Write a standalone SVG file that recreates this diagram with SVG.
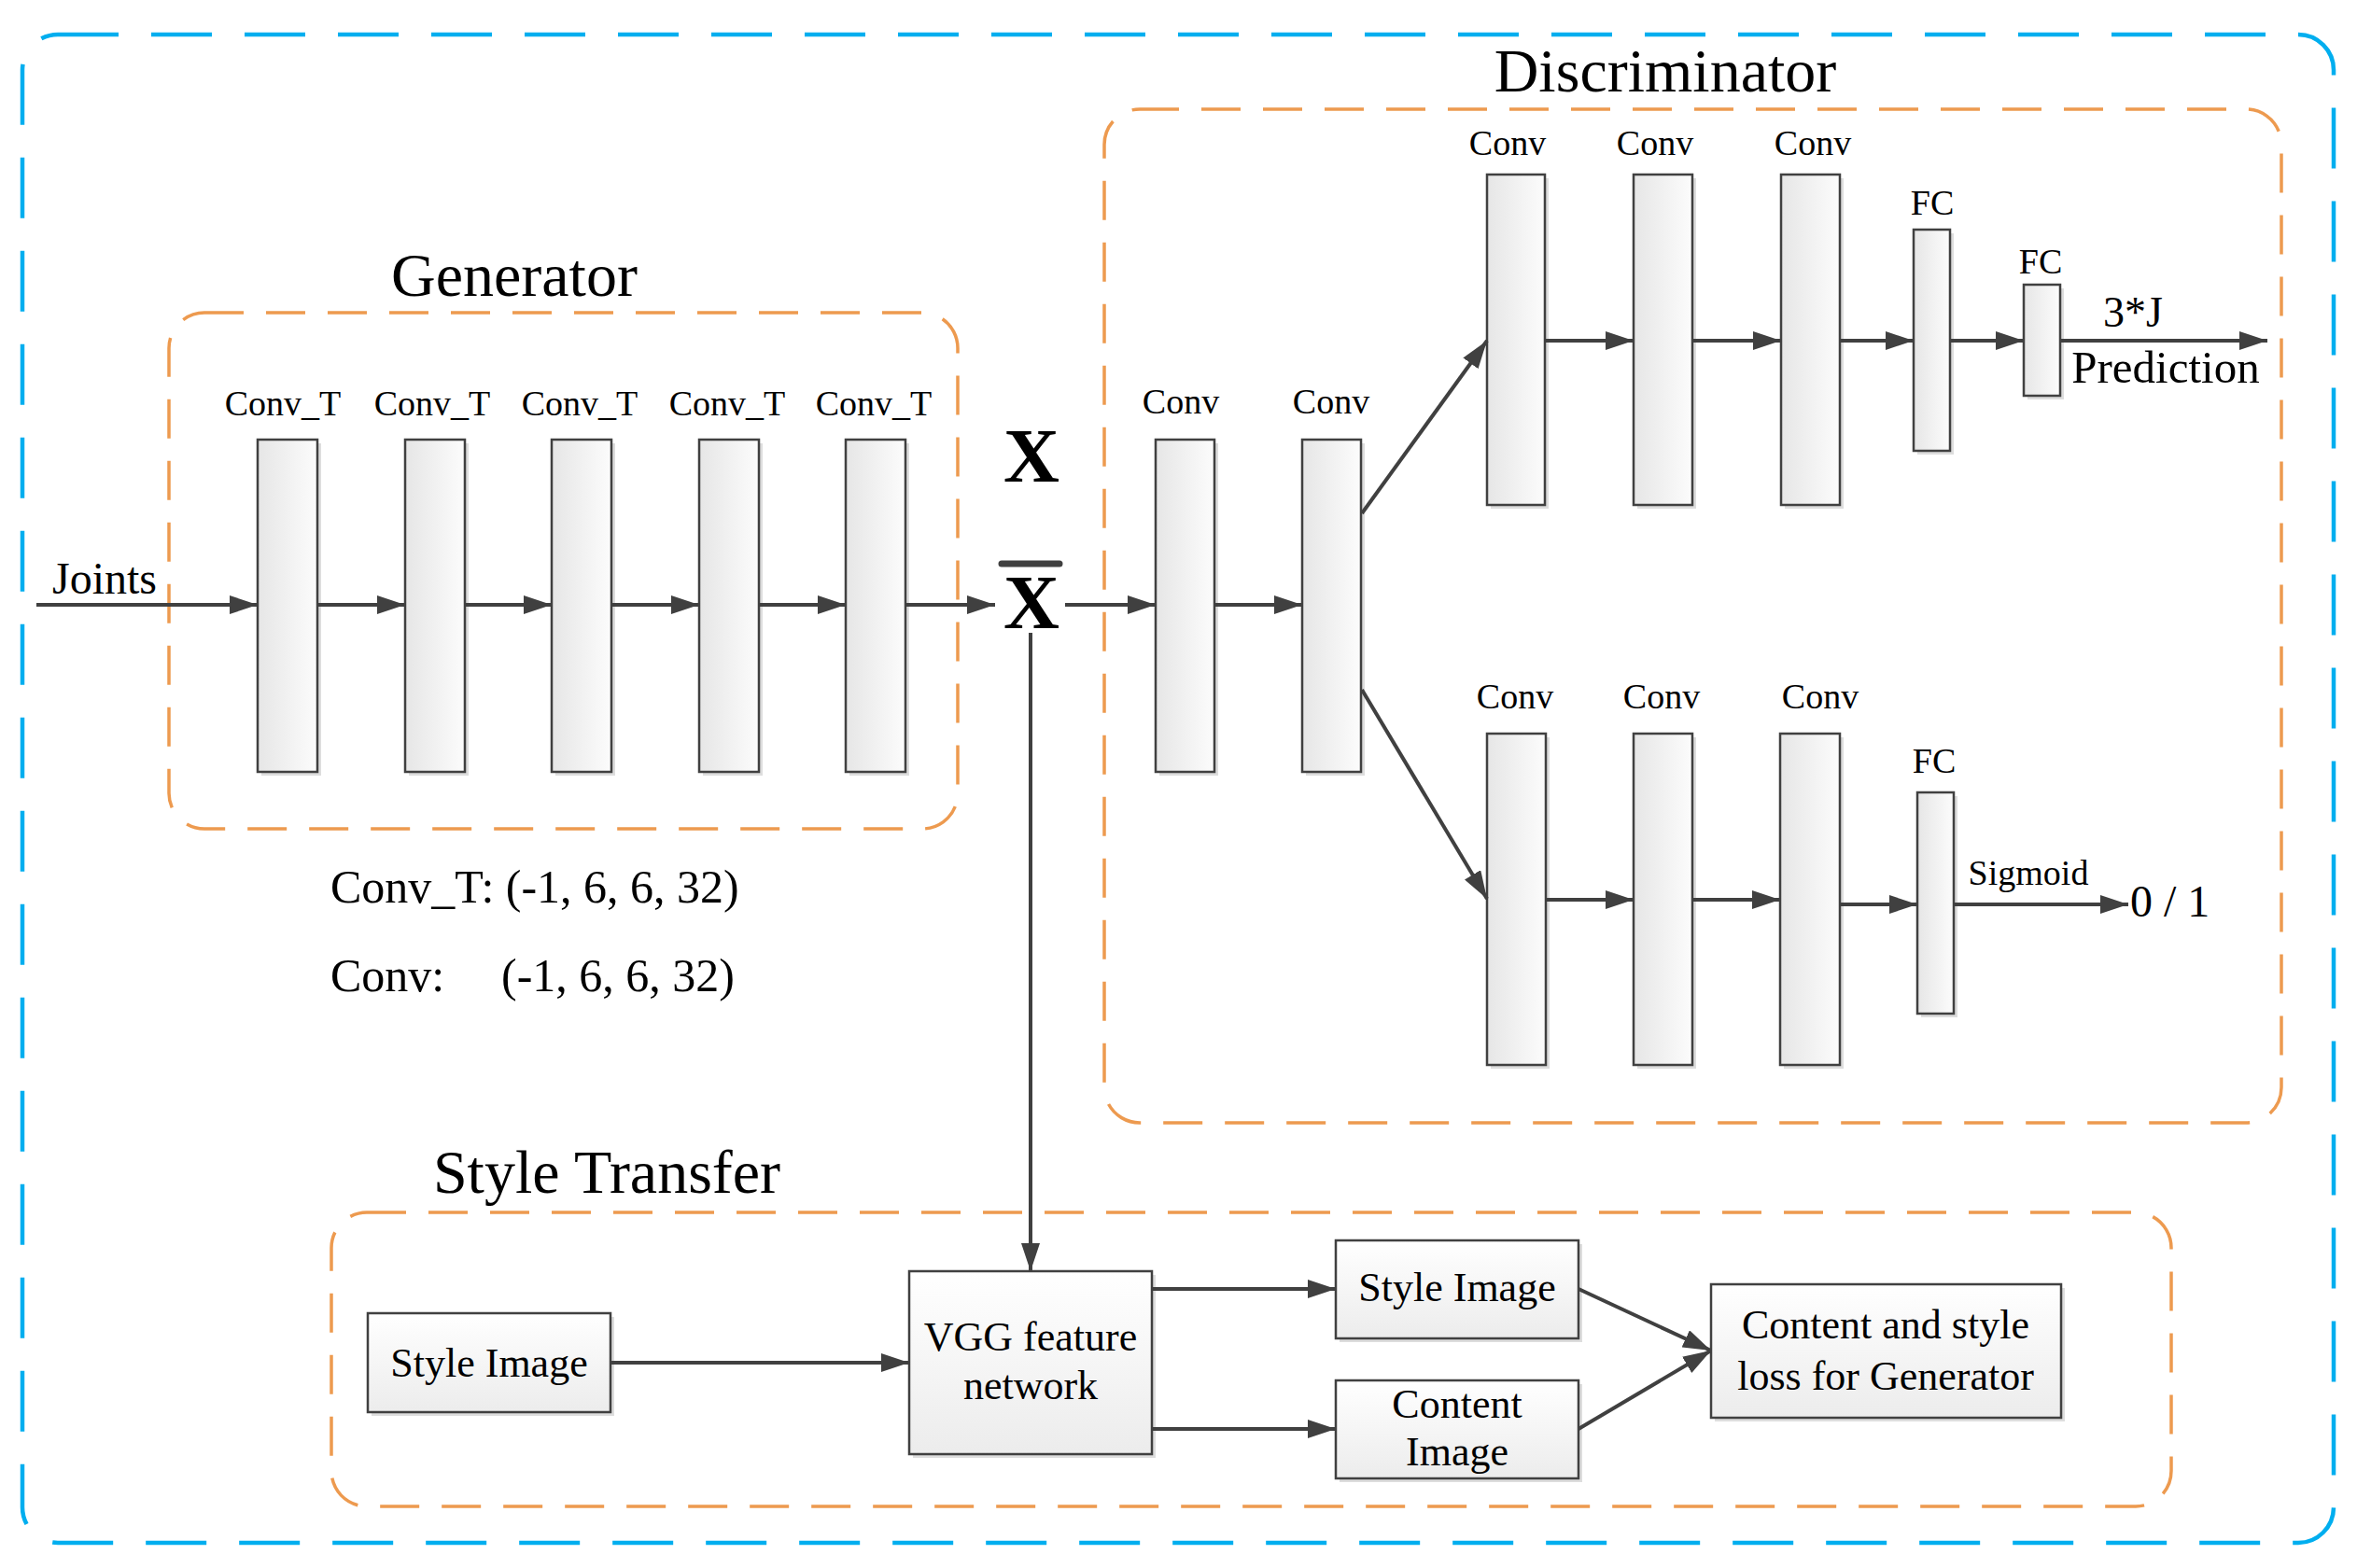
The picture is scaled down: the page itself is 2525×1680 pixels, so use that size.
<svg xmlns="http://www.w3.org/2000/svg" width="2525" height="1680" viewBox="0 0 2525 1680">
<style>
.t{font-family:"Liberation Serif","Times New Roman",serif;fill:#000}
.lbl{font-size:38px;text-anchor:middle}
.ttl{font-size:66px;text-anchor:middle}
.box{font-size:44px;text-anchor:middle}
.blk{fill:url(#gh);stroke:#404040;stroke-width:2.5}
.bx{fill:url(#gv);stroke:#404040;stroke-width:2.5}
.sh{fill:#cfcfcf;opacity:.7}
.grp{fill:none;stroke:#ED9A4F;stroke-width:3.5;stroke-dasharray:42 24}
.c line{stroke:#404040;stroke-width:4;marker-end:url(#ah)}
</style>
<defs>
<linearGradient id="gh" x1="0" y1="0" x2="1" y2="0"><stop offset="0" stop-color="#E6E6E6"/><stop offset="1" stop-color="#FCFCFC"/></linearGradient>
<linearGradient id="gv" x1="0" y1="0" x2="0" y2="1"><stop offset="0" stop-color="#FFFFFF"/><stop offset="1" stop-color="#ECECEC"/></linearGradient>
<marker id="ah" markerWidth="30" markerHeight="20" refX="30" refY="10" orient="auto" markerUnits="userSpaceOnUse"><path d="M0,0 L30,10 L0,20 z" fill="#404040"/></marker>
</defs>
<rect width="2525" height="1680" fill="#fff"/>
<rect id="outer" x="24" y="37" width="2476" height="1616" rx="38" fill="none" stroke="#00AEEF" stroke-width="4.5" stroke-dasharray="65 35"/>

<g id="generator">
<rect class="grp" x="181" y="335" width="845" height="553" rx="38"/>
<text class="t ttl" x="551" y="317">Generator</text>
</g>
<g id="discriminator">
<rect class="grp" x="1183" y="117" width="1261" height="1086" rx="38"/>
<text class="t ttl" x="1784" y="98">Discriminator</text>
</g>
<g id="styletransfer">
<rect class="grp" x="355" y="1299" width="1971" height="315" rx="38"/>
<text class="t ttl" x="650" y="1278">Style Transfer</text>
</g>

<g id="gen-layers">
<g id="g1"><rect class="sh" x="280" y="475" width="64" height="356"/><rect class="blk" x="276" y="471" width="64" height="356"/><text class="t lbl" x="303" y="445">Conv_T</text></g>
<g id="g2"><rect class="sh" x="438" y="475" width="64" height="356"/><rect class="blk" x="434" y="471" width="64" height="356"/><text class="t lbl" x="463" y="445">Conv_T</text></g>
<g id="g3"><rect class="sh" x="595" y="475" width="64" height="356"/><rect class="blk" x="591" y="471" width="64" height="356"/><text class="t lbl" x="621" y="445">Conv_T</text></g>
<g id="g4"><rect class="sh" x="753" y="475" width="64" height="356"/><rect class="blk" x="749" y="471" width="64" height="356"/><text class="t lbl" x="779" y="445">Conv_T</text></g>
<g id="g5"><rect class="sh" x="910" y="475" width="64" height="356"/><rect class="blk" x="906" y="471" width="64" height="356"/><text class="t lbl" x="936" y="445">Conv_T</text></g>
</g>

<g id="x-labels">
<text class="t" x="1105" y="516" font-size="83" font-weight="bold" text-anchor="middle">X</text>
<text class="t" x="1105" y="673" font-size="83" font-weight="bold" text-anchor="middle">X</text>
<line x1="1073" y1="604" x2="1135" y2="604" stroke="#404040" stroke-width="7" stroke-linecap="round"/>
<text class="t" x="56" y="636" font-size="48">Joints</text>
</g>

<g id="disc-layers">
<g id="d1"><rect class="sh" x="1242" y="475" width="63" height="356"/><rect class="blk" x="1238" y="471" width="63" height="356"/><text class="t lbl" x="1265" y="443">Conv</text></g>
<g id="d2"><rect class="sh" x="1399" y="475" width="63" height="356"/><rect class="blk" x="1395" y="471" width="63" height="356"/><text class="t lbl" x="1426" y="443">Conv</text></g>
<g id="t1"><rect class="sh" x="1597" y="191" width="62" height="354"/><rect class="blk" x="1593" y="187" width="62" height="354"/><text class="t lbl" x="1615" y="166">Conv</text></g>
<g id="t2"><rect class="sh" x="1754" y="191" width="63" height="354"/><rect class="blk" x="1750" y="187" width="63" height="354"/><text class="t lbl" x="1773" y="166">Conv</text></g>
<g id="t3"><rect class="sh" x="1912" y="191" width="63" height="354"/><rect class="blk" x="1908" y="187" width="63" height="354"/><text class="t lbl" x="1942" y="166">Conv</text></g>
<g id="tfc1"><rect class="sh" x="2054" y="250" width="39" height="237"/><rect class="blk" x="2050" y="246" width="39" height="237"/><text class="t lbl" x="2070" y="230">FC</text></g>
<g id="tfc2"><rect class="sh" x="2172" y="309" width="39" height="119"/><rect class="blk" x="2168" y="305" width="39" height="119"/><text class="t lbl" x="2186" y="293">FC</text></g>
<g id="b1"><rect class="sh" x="1597" y="790" width="63" height="355"/><rect class="blk" x="1593" y="786" width="63" height="355"/><text class="t lbl" x="1623" y="759">Conv</text></g>
<g id="b2"><rect class="sh" x="1754" y="790" width="63" height="355"/><rect class="blk" x="1750" y="786" width="63" height="355"/><text class="t lbl" x="1780" y="759">Conv</text></g>
<g id="b3"><rect class="sh" x="1911" y="790" width="64" height="355"/><rect class="blk" x="1907" y="786" width="64" height="355"/><text class="t lbl" x="1950" y="759">Conv</text></g>
<g id="bfc"><rect class="sh" x="2058" y="853" width="39" height="237"/><rect class="blk" x="2054" y="849" width="39" height="237"/><text class="t lbl" x="2072" y="828">FC</text></g>
<text class="t" x="2285" y="350" font-size="46" text-anchor="middle">3*J</text>
<text class="t" x="2320" y="410" font-size="49" text-anchor="middle">Prediction</text>
<text class="t" x="2173" y="948" font-size="38" text-anchor="middle">Sigmoid</text>
<text class="t" x="2282" y="982" font-size="48">0 / 1</text>
</g>

<g id="dims">
<text class="t" x="354" y="967" font-size="50">Conv_T: (-1, 6, 6, 32)</text>
<text class="t" y="1062" font-size="50"><tspan x="354">Conv:</tspan><tspan x="537">(-1, 6, 6, 32)</tspan></text>
</g>

<g id="style-image-in"><rect class="sh" x="398" y="1411" width="260" height="106"/><rect class="bx" x="394" y="1407" width="260" height="106"/><text class="t box" x="524" y="1475">Style Image</text></g>
<g id="vgg"><rect class="sh" x="978" y="1366" width="260" height="196"/><rect class="bx" x="974" y="1362" width="260" height="196"/><text class="t box" x="1104" y="1447">VGG feature</text><text class="t box" x="1104" y="1499">network</text></g>
<g id="style-image-out"><rect class="sh" x="1435" y="1333" width="260" height="105"/><rect class="bx" x="1431" y="1329" width="260" height="105"/><text class="t box" x="1561" y="1394">Style Image</text></g>
<g id="content-image"><rect class="sh" x="1435" y="1483" width="260" height="105"/><rect class="bx" x="1431" y="1479" width="260" height="105"/><text class="t box" x="1561" y="1519">Content</text><text class="t box" x="1561" y="1570">Image</text></g>
<g id="loss"><rect class="sh" x="1837" y="1380" width="375" height="143"/><rect class="bx" x="1833" y="1376" width="375" height="143"/><text class="t box" x="2020" y="1434">Content and style</text><text class="t box" x="2020" y="1489">loss for Generator</text></g>

<g id="connectors" class="c">
<line x1="39" y1="648" x2="276" y2="648"/>
<line x1="340" y1="648" x2="434" y2="648"/>
<line x1="497" y1="648" x2="591" y2="648"/>
<line x1="655" y1="648" x2="749" y2="648"/>
<line x1="812" y1="648" x2="906" y2="648"/>
<line x1="970" y1="648" x2="1066" y2="648"/>
<line x1="1141" y1="648" x2="1238" y2="648"/>
<line x1="1301" y1="648" x2="1395" y2="648"/>
<line x1="1459" y1="550" x2="1593" y2="365"/>
<line x1="1655" y1="365" x2="1750" y2="365"/>
<line x1="1813" y1="365" x2="1908" y2="365"/>
<line x1="1971" y1="365" x2="2050" y2="365"/>
<line x1="2089" y1="365" x2="2168" y2="365"/>
<line x1="2207" y1="365" x2="2429" y2="365"/>
<line x1="1459" y1="739" x2="1593" y2="963"/>
<line x1="1656" y1="964" x2="1750" y2="964"/>
<line x1="1813" y1="964" x2="1907" y2="964"/>
<line x1="1971" y1="969" x2="2054" y2="969"/>
<line x1="2093" y1="969" x2="2280" y2="969"/>
<line x1="1104" y1="678" x2="1104" y2="1362"/>
<line x1="654" y1="1460" x2="974" y2="1460"/>
<line x1="1234" y1="1381" x2="1431" y2="1381"/>
<line x1="1234" y1="1531" x2="1431" y2="1531"/>
<line x1="1691" y1="1381" x2="1833" y2="1447"/>
<line x1="1691" y1="1531" x2="1833" y2="1447"/>
</g>
</svg>
